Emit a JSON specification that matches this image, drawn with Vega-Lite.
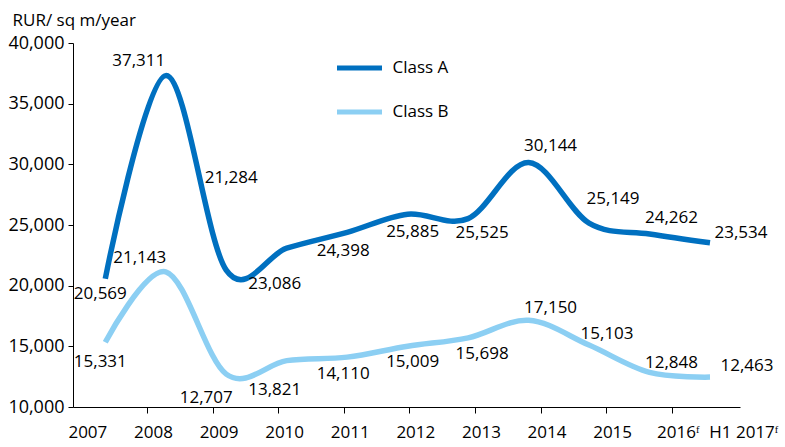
{
  "$schema": "https://vega.github.io/schema/vega-lite/v6.json",
  "width": 667,
  "height": 364,
  "autosize": {"type": "none"},
  "padding": {"left": 73, "top": 43, "right": 45, "bottom": 40},
  "background": "white",
  "config": {
    "font": "Open Sans",
    "view": {"stroke": null},
    "axis": {"grid": false, "domainColor": "#000", "tickColor": "#000", "labelColor": "#000", "labelFontSize": 17, "labelFont": "Open Sans"},
    "text": {"fontSize": 17, "font": "Open Sans", "color": "#000"}
  },
  "data": {
    "values": [
      {"s": "Class A", "i": 0, "year": "2007", "v": 20569},
      {"s": "Class A", "i": 1, "year": "2008", "v": 37311},
      {"s": "Class A", "i": 2, "year": "2009", "v": 21284},
      {"s": "Class A", "i": 3, "year": "2010", "v": 23086},
      {"s": "Class A", "i": 4, "year": "2011", "v": 24398},
      {"s": "Class A", "i": 5, "year": "2012", "v": 25885},
      {"s": "Class A", "i": 6, "year": "2013", "v": 25525},
      {"s": "Class A", "i": 7, "year": "2014", "v": 30144},
      {"s": "Class A", "i": 8, "year": "2015", "v": 25149},
      {"s": "Class A", "i": 9, "year": "2016F", "v": 24262},
      {"s": "Class A", "i": 10, "year": "H1 2017F", "v": 23534},
      {"s": "Class B", "i": 0, "year": "2007", "v": 15331},
      {"s": "Class B", "i": 1, "year": "2008", "v": 21143},
      {"s": "Class B", "i": 2, "year": "2009", "v": 12707},
      {"s": "Class B", "i": 3, "year": "2010", "v": 13821},
      {"s": "Class B", "i": 4, "year": "2011", "v": 14110},
      {"s": "Class B", "i": 5, "year": "2012", "v": 15009},
      {"s": "Class B", "i": 6, "year": "2013", "v": 15698},
      {"s": "Class B", "i": 7, "year": "2014", "v": 17150},
      {"s": "Class B", "i": 8, "year": "2015", "v": 15103},
      {"s": "Class B", "i": 9, "year": "2016F", "v": 12848},
      {"s": "Class B", "i": 10, "year": "H1 2017F", "v": 12463}
    ]
  },
  "encoding": {
    "x": {
      "field": "i", "type": "quantitative",
      "scale": {"domain": [-0.534, 10.496], "nice": false, "zero": false},
      "axis": {
        "values": [-0.396, 0.689, 1.774, 2.858, 3.943, 5.028, 6.113, 7.197, 8.282, 9.367, 10.452],
        "labelExpr": "['2007','2008','2009','2010','2011','2012','2013','2014','2015','2016ᶠ','H1 2017ᶠ'][round((datum.value+0.396)/1.0847)]",
        "labelOffset": 6,
        "tickSize": 6,
        "labelPadding": 11,
        "title": null,
        "tickOpacity": {"condition": {"test": "datum.value < 0 || datum.value > 10", "value": 0}, "value": 1},
        "labelOverlap": false,
        "labelFlush": false,
        "labelBound": false
      }
    },
    "y": {
      "field": "v", "type": "quantitative",
      "scale": {"domain": [10000, 40000], "nice": false, "zero": false},
      "axis": {
        "values": [10000, 15000, 20000, 25000, 30000, 35000, 40000],
        "labelExpr": "format(datum.value, ',')",
        "labelFontSize": 18,
        "tickSize": 5,
        "labelPadding": 4,
        "title": "RUR/ sq m/year",
        "titleAngle": 0,
        "titleAlign": "left",
        "titleBaseline": "alphabetic",
        "titleX": -61,
        "titleY": -18,
        "titleFontSize": 17,
        "titleFontWeight": "normal",
        "titleColor": "#000",
        "titleFont": "Open Sans"
      }
    }
  },
  "layer": [
    {
      "mark": {"type": "line", "interpolate": "cardinal", "strokeWidth": 5.5, "strokeCap": "butt"},
      "encoding": {
        "color": {
          "field": "s", "type": "nominal",
          "scale": {"domain": ["Class A", "Class B"], "range": ["#0070C0", "#8ccff3"]},
          "legend": {
            "orient": "none", "legendX": 261.5, "legendY": 0, "direction": "vertical",
            "title": null, "symbolType": "stroke", "symbolSize": 2025, "symbolStrokeWidth": 5,
            "labelFontSize": 17, "labelOffset": 8, "rowPadding": 9, "padding": 0, "labelColor": "#000", "labelFont": "Open Sans"
          }
        }
      }
    },
    {
      "encoding": {"text": {"field": "v", "type": "quantitative", "format": ","}},
      "layer": [
        {"transform": [{"filter": "datum.s=='Class A' && datum.i==0"}], "mark": {"type": "text", "dx": -5, "dy": 15}},
        {"transform": [{"filter": "datum.s=='Class A' && datum.i==1"}], "mark": {"type": "text", "dx": -27, "dy": -15}},
        {"transform": [{"filter": "datum.s=='Class A' && datum.i==2"}], "mark": {"type": "text", "dx": 5, "dy": -92}},
        {"transform": [{"filter": "datum.s=='Class A' && datum.i==3"}], "mark": {"type": "text", "dx": -12, "dy": 36}},
        {"transform": [{"filter": "datum.s=='Class A' && datum.i==4"}], "mark": {"type": "text", "dx": -4, "dy": 19}},
        {"transform": [{"filter": "datum.s=='Class A' && datum.i==5"}], "mark": {"type": "text", "dx": 5, "dy": 18}},
        {"transform": [{"filter": "datum.s=='Class A' && datum.i==6"}], "mark": {"type": "text", "dx": 14, "dy": 14}},
        {"transform": [{"filter": "datum.s=='Class A' && datum.i==7"}], "mark": {"type": "text", "dx": 22, "dy": -17}},
        {"transform": [{"filter": "datum.s=='Class A' && datum.i==8"}], "mark": {"type": "text", "dx": 24, "dy": -24}},
        {"transform": [{"filter": "datum.s=='Class A' && datum.i==9"}], "mark": {"type": "text", "dx": 22, "dy": -16}},
        {"transform": [{"filter": "datum.s=='Class A' && datum.i==10"}], "mark": {"type": "text", "dx": 31, "dy": -10}},
        {"transform": [{"filter": "datum.s=='Class B' && datum.i==0"}], "mark": {"type": "text", "dx": -5, "dy": 20}},
        {"transform": [{"filter": "datum.s=='Class B' && datum.i==1"}], "mark": {"type": "text", "dx": -26, "dy": -14}},
        {"transform": [{"filter": "datum.s=='Class B' && datum.i==2"}], "mark": {"type": "text", "dx": -20, "dy": 24}},
        {"transform": [{"filter": "datum.s=='Class B' && datum.i==3"}], "mark": {"type": "text", "dx": -12, "dy": 29}},
        {"transform": [{"filter": "datum.s=='Class B' && datum.i==4"}], "mark": {"type": "text", "dx": -4, "dy": 17}},
        {"transform": [{"filter": "datum.s=='Class B' && datum.i==5"}], "mark": {"type": "text", "dx": 5, "dy": 16}},
        {"transform": [{"filter": "datum.s=='Class B' && datum.i==6"}], "mark": {"type": "text", "dx": 14, "dy": 16}},
        {"transform": [{"filter": "datum.s=='Class B' && datum.i==7"}], "mark": {"type": "text", "dx": 22, "dy": -12}},
        {"transform": [{"filter": "datum.s=='Class B' && datum.i==8"}], "mark": {"type": "text", "dx": 18, "dy": -11}},
        {"transform": [{"filter": "datum.s=='Class B' && datum.i==9"}], "mark": {"type": "text", "dx": 22, "dy": -9}},
        {"transform": [{"filter": "datum.s=='Class B' && datum.i==10"}], "mark": {"type": "text", "dx": 37, "dy": -11}}
      ]
    }
  ]
}
